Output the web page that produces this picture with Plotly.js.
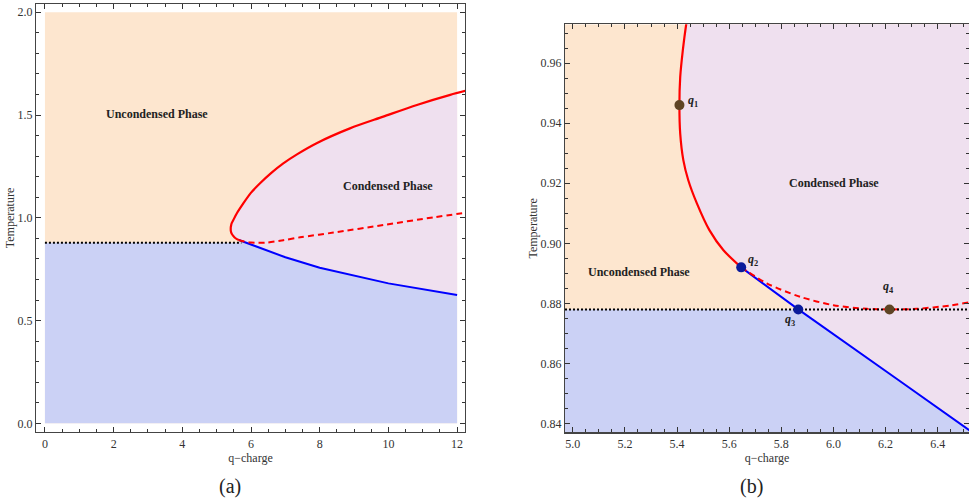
<!DOCTYPE html>
<html><head><meta charset="utf-8">
<script src="https://cdn.plot.ly/plotly-3.0.1.min.js"></script>
<style>html,body{margin:0;padding:0;background:#fff}#chart{width:969px;height:500px}</style>
</head><body><div id="chart"></div>
<script>
// ---------- panel (a) data ----------
const qRangeA = [0, 12];
const TRangeA = [0, 2];
const Tc = 0.878;
const qRedSolidA = [5.646, 5.578, 5.524, 5.476, 5.443, 5.424, 5.412, 5.409, 5.412, 5.422, 5.435, 5.485, 5.58, 5.776, 5.99, 6.263, 6.6, 6.94, 7.35, 7.91, 8.88, 9.85, 10.83, 11.80, 12.28];
const TRedSolidA = [0.892, 0.8977, 0.9044, 0.9133, 0.921, 0.9277, 0.9365, 0.946, 0.9553, 0.9642, 0.9729, 0.989, 1.02, 1.070, 1.12, 1.168, 1.22, 1.265, 1.31, 1.363, 1.435, 1.492, 1.549, 1.598, 1.619];
const qRedDashA = [5.646, 5.744, 5.872, 6.0, 6.215, 6.45, 6.94, 7.43, 8.40, 9.85, 11.31, 12.28];
const TRedDashA = [0.892, 0.8867, 0.8822, 0.8794, 0.878, 0.8793, 0.891, 0.905, 0.928, 0.965, 1.002, 1.025];
const qBlueA = [5.646, 5.865, 7.0, 8.0, 10.0, 12.0];
const TBlueA = [0.892, 0.878, 0.808, 0.757, 0.681, 0.624];
const qDotA = [0, 5.72];

// ---------- panel (b) data ----------
const qRangeB = [4.97, 6.53];
const TRangeB = [0.8371, 0.9729];
const qRedSolidB = [5.646, 5.578, 5.524, 5.476, 5.443, 5.424, 5.412, 5.409, 5.412, 5.422, 5.435, 5.445];
const TRedSolidB = [0.892, 0.8977, 0.9044, 0.9133, 0.921, 0.9277, 0.9365, 0.946, 0.9553, 0.9642, 0.9729, 0.978];
const qRedDashB = [5.646, 5.744, 5.872, 6.0, 6.128, 6.215, 6.32, 6.447, 6.55];
const TRedDashB = [0.892, 0.8867, 0.8822, 0.8794, 0.8782, 0.878, 0.8782, 0.8793, 0.8808];
const qBlueB = [5.646, 5.865, 6.249, 6.55];
const TBlueB = [0.892, 0.878, 0.8545, 0.836];
const qPointsB = [5.409, 5.646, 5.865, 6.215];
const TPointsB = [0.946, 0.892, 0.878, 0.878];
const pointColors = ['#5e4424', '#0a1a9c', '#0a1a9c', '#5e4424'];
const pointNames = ['1', '2', '3', '4'];
const qLabelB = [5.462, 5.692, 5.834, 6.21];
const TLabelB = [0.9475, 0.8946, 0.8745, 0.8853];
const phaseNames = ['Uncondensed Phase', 'Condensed Phase'];
const qPhaseA = [3.25, 9.99], TPhaseA = [1.504, 1.156];
const qPhaseB = [5.253, 6.003], TPhaseB = [0.8903, 0.9202];

// ---------- styles ----------
const cOrange = '#fde6cf', cLav = '#efe0ef', cBlue = '#cbd1f5';
const serif = 'Liberation Serif, Times New Roman, serif';

function clipAt(qs, Ts, qmax) {
  const q = [], T = [];
  for (let i = 0; i < qs.length; i++) {
    if (qs[i] <= qmax) { q.push(qs[i]); T.push(Ts[i]); }
    else {
      const f = (qmax - qs[i-1]) / (qs[i] - qs[i-1]);
      q.push(qmax); T.push(Ts[i-1] + f * (Ts[i] - Ts[i-1]));
      break;
    }
  }
  return [q, T];
}

const traces = [];
function poly(q, T, color, xa, ya) {
  traces.push({x: q, y: T, xaxis: xa, yaxis: ya, mode: 'lines', fill: 'toself', fillcolor: color,
    line: {width: 0, color: color}, hoverinfo: 'skip', showlegend: false});
}
function line(q, T, color, width, dash, xa, ya, shape) {
  traces.push({x: q, y: T, xaxis: xa, yaxis: ya, mode: 'lines',
    line: {color: color, width: width, dash: dash, shape: shape || 'linear', smoothing: 0.8},
    hoverinfo: 'skip', showlegend: false});
}

// ---- panel (a) regions ----
poly([qRangeA[0], qRangeA[1], qRangeA[1], qRangeA[0]], [TRangeA[0], TRangeA[0], TRangeA[1], TRangeA[1]], cOrange, 'x', 'y');
(function(){
  const [rq, rT] = clipAt(qRedSolidA, TRedSolidA, qRangeA[1]);
  const q = rq.concat(qBlueA.slice().reverse());
  const T = rT.concat(TBlueA.slice().reverse());
  poly(q, T, cLav, 'x', 'y');
  const bq = [qRangeA[0], qRangeA[0]], bT = [TRangeA[0], Tc];
  for (let i = 1; i < qBlueA.length; i++) { bq.push(qBlueA[i]); bT.push(TBlueA[i]); }
  bq.push(qRangeA[1]); bT.push(TRangeA[0]);
  poly(bq, bT, cBlue, 'x', 'y');
})();
line(qBlueA, TBlueA, '#0000ff', 2, 'solid', 'x', 'y');
line(qRedDashA, TRedDashA, '#ff0000', 2, '6px,4px', 'x', 'y', 'spline');
line(qRedSolidA, TRedSolidA, '#ff0000', 2.2, 'solid', 'x', 'y', 'spline');
line(qDotA, [Tc, Tc], '#000000', 2, '2px,2px', 'x', 'y');

// ---- panel (b) regions ----
poly([qRangeB[0], qRangeB[1], qRangeB[1], qRangeB[0]], [TRangeB[0], TRangeB[0], TRangeB[1], TRangeB[1]], cOrange, 'x2', 'y2');
(function(){
  const topT = TRedSolidB[TRedSolidB.length - 1];
  const endQ = qBlueB[qBlueB.length - 1];
  const q = qRedSolidB.concat([endQ]).concat(qBlueB.slice().reverse());
  const T = TRedSolidB.concat([topT]).concat(TBlueB.slice().reverse());
  poly(q, T, cLav, 'x2', 'y2');
  const bq = [qRangeB[0] - 0.05, qRangeB[0] - 0.05], bT = [TRangeB[0] - 0.01, Tc];
  for (let i = 1; i < qBlueB.length; i++) { bq.push(qBlueB[i]); bT.push(TBlueB[i]); }
  bq.push(endQ); bT.push(TRangeB[0] - 0.01);
  poly(bq, bT, cBlue, 'x2', 'y2');
})();
line(qBlueB, TBlueB, '#0000ff', 2, 'solid', 'x2', 'y2');
line(qRedDashB, TRedDashB, '#ff0000', 2, '6px,4px', 'x2', 'y2', 'spline');
line(qRedSolidB, TRedSolidB, '#ff0000', 2.2, 'solid', 'x2', 'y2', 'spline');
line([qRangeB[0], qRangeB[1] + 0.05], [Tc, Tc], '#000000', 2, '2px,2px', 'x2', 'y2');
traces.push({x: qPointsB, y: TPointsB, xaxis: 'x2', yaxis: 'y2', mode: 'markers',
  marker: {size: 10, color: pointColors}, hoverinfo: 'skip', showlegend: false, cliponaxis: false});

// ---------- annotations ----------
const ann = [];
function txt(x, y, text, xref, yref, size) {
  ann.push({x: x, y: y, xref: xref, yref: yref, text: text, showarrow: false,
    font: {family: serif, size: size || 12, color: '#222'}, xanchor: 'center', yanchor: 'middle'});
}
phaseNames.forEach((n, i) => {
  txt(qPhaseA[i], TPhaseA[i], '<b>' + n + '</b>', 'x', 'y');
  txt(qPhaseB[i], TPhaseB[i], '<b>' + n + '</b>', 'x2', 'y2');
});
pointNames.forEach((n, i) => {
  txt(qLabelB[i], TLabelB[i], '<b><i>q</i><sub>' + n + '</sub></b>', 'x2', 'y2', 12);
});
txt(230 / 969, 13.3 / 500, '(a)', 'paper', 'paper', 20);
txt(751.7 / 969, 13.3 / 500, '(b)', 'paper', 'paper', 20);

// ---------- axes ----------
const tickFont = {family: serif, size: 12, color: '#333'};
function axis(range, dtick, tick0, fmt, minor, domain, title, extra) {
  return Object.assign({
    range: range, domain: domain, dtick: dtick, tick0: tick0, tickformat: fmt,
    ticks: 'inside', ticklen: 5, tickwidth: 1, tickcolor: '#333',
    minor: {dtick: minor, tick0: tick0, ticks: 'inside', ticklen: 3, tickwidth: 1, tickcolor: '#333', showgrid: false},
    showgrid: false, zeroline: false, showline: true, linecolor: '#444', linewidth: 1.2, mirror: 'ticks',
    tickfont: tickFont, fixedrange: true,
    title: {text: title, font: {family: serif, size: 12, color: '#333'}, standoff: 0}
  }, extra || {});
}

const layout = {
  width: 969, height: 500,
  margin: {l: 0, r: 0, t: 0, b: 0},
  paper_bgcolor: '#ffffff', plot_bgcolor: '#ffffff',
  xaxis: axis([-0.26, 12.23], 2, 0, 'd', 0.5, [36 / 969, 465 / 969], 'q\u2212charge', {anchor: 'y'}),
  yaxis: axis([-0.042, 2.04], 0.5, 0, '.1f', 0.1, [68 / 500, 496 / 500], 'Temperature', {anchor: 'x'}),
  xaxis2: axis([qRangeB[0], 6.52], 0.2, 5.0, '.1f', 0.05, [565 / 969, 1], 'q\u2212charge', {anchor: 'y2'}),
  yaxis2: axis([TRangeB[0], TRangeB[1]], 0.02, 0.84, '.2f', 0.005, [67.7 / 500, 475.7 / 500], 'Temperature', {anchor: 'x2'}),
  annotations: ann,
  showlegend: false
};

Plotly.newPlot('chart', traces, layout, {displayModeBar: false, staticPlot: true});
</script>
</body></html>
